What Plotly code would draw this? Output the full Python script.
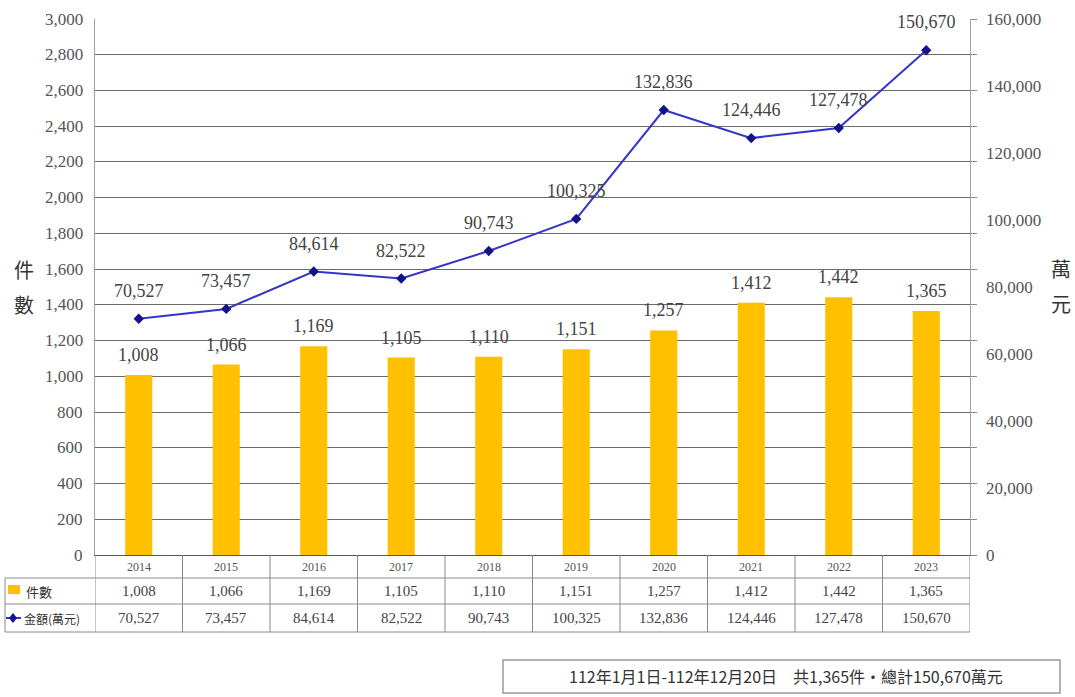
import plotly.graph_objects as go

years = ["2014", "2015", "2016", "2017", "2018", "2019", "2020", "2021", "2022", "2023"]
cases = [1008, 1066, 1169, 1105, 1110, 1151, 1257, 1412, 1442, 1365]
amounts = [70527, 73457, 84614, 82522, 90743, 100325, 132836, 124446, 127478, 150670]
left_ticks = [0, 200, 400, 600, 800, 1000, 1200, 1400, 1600, 1800, 2000, 2200, 2400, 2600, 2800, 3000]
right_ticks = [0, 20000, 40000, 60000, 80000, 100000, 120000, 140000, 160000]
case_label = "件數"
amount_label = "金額(萬元)"
left_title = ["件", "數"]
right_title = ["萬", "元"]
summary = "112年1月1日-112年12月20日　共1,365件‧總計150,670萬元"

W, H = 1075, 697
L, R, T, B = 95, 970, 19, 555
PW, PH = R - L, B - T


def px(x):
    return (x - L) / PW


def py(y):
    return (B - y) / PH


NUM = "Liberation Serif"
CJK = "Noto Sans CJK TC"
TXT = "#444444"
TICK = "#555555"

LMAX, RMAX = left_ticks[-1], right_ticks[-1]

fig = go.Figure()
fig.add_trace(go.Bar(x=years, y=cases, marker=dict(color="#FFC000", line=dict(width=0)),
                     name=case_label, yaxis="y", showlegend=False))
fig.add_trace(go.Scatter(x=years, y=amounts, mode="lines+markers", yaxis="y2",
                         line=dict(color="#3535C8", width=2),
                         marker=dict(symbol="diamond", size=8, color="#14148A"),
                         name=amount_label, showlegend=False))

ann = []
fmt = lambda v: f"{v:,}"
for i, c in enumerate(cases):
    ann.append(dict(x=i, y=c, xref="x", yref="y", text=fmt(c), showarrow=False,
                    yshift=20, font=dict(family=NUM, size=18, color=TXT)))
for i, a in enumerate(amounts):
    ann.append(dict(x=i, y=a, xref="x", yref="y2", text=fmt(a), showarrow=False,
                    yshift=28, font=dict(family=NUM, size=18, color=TXT)))

# axis tick labels
for v in left_ticks:
    ann.append(dict(x=px(85), y=v, xref="paper", yref="y", text=fmt(v), showarrow=False,
                    xanchor="right", yanchor="middle", font=dict(family=NUM, size=17, color=TICK)))
for v in right_ticks:
    ann.append(dict(x=px(984), y=v, xref="paper", yref="y2", text=fmt(v), showarrow=False,
                    xanchor="left", yanchor="middle", font=dict(family=NUM, size=17, color=TICK)))

# data table
row_year, row_case, row_amt = 567, 591, 618
for i, (yr, c, a) in enumerate(zip(years, cases, amounts)):
    ann.append(dict(x=i, y=py(row_year), xref="x", yref="paper", text=yr, showarrow=False,
                    font=dict(family=NUM, size=12, color="#555"), yanchor="middle"))
    ann.append(dict(x=i, y=py(row_case), xref="x", yref="paper", text=fmt(c), showarrow=False,
                    font=dict(family=NUM, size=15, color=TXT), yanchor="middle"))
    ann.append(dict(x=i, y=py(row_amt), xref="x", yref="paper", text=fmt(a), showarrow=False,
                    font=dict(family=NUM, size=15, color=TXT), yanchor="middle"))
ann.append(dict(x=px(24), y=py(row_case), xref="paper", yref="paper", text=case_label,
                showarrow=False, xanchor="left", yanchor="middle",
                font=dict(family=CJK, size=13, color="#333")))
ann.append(dict(x=px(22), y=py(row_amt), xref="paper", yref="paper", text=amount_label,
                showarrow=False, xanchor="left", yanchor="middle",
                font=dict(family=CJK, size=12, color="#333")))
# axis titles (one character per line)
for k, ch in enumerate(left_title):
    ann.append(dict(x=px(24), y=py(269 + 35 * k), xref="paper", yref="paper", text=ch,
                    showarrow=False, xanchor="center", yanchor="middle",
                    font=dict(family=CJK, size=20, color="#333")))
for k, ch in enumerate(right_title):
    ann.append(dict(x=px(1061), y=py(268 + 35 * k), xref="paper", yref="paper", text=ch,
                    showarrow=False, xanchor="center", yanchor="middle",
                    font=dict(family=CJK, size=20, color="#333")))
# summary box text
ann.append(dict(x=px(786), y=py(676), xref="paper", yref="paper", text=summary,
                showarrow=False, xanchor="center", yanchor="middle",
                font=dict(family=CJK, size=16, color="#333")))

shapes = []
lc = "#8a8a8a"
for yy in [578, 604, 632]:
    shapes.append(dict(type="line", xref="paper", yref="paper", x0=px(5), x1=1,
                       y0=py(yy), y1=py(yy), line=dict(color=lc, width=1)))
shapes.append(dict(type="line", xref="paper", yref="paper", x0=px(5), x1=px(5),
                   y0=py(578), y1=py(632), line=dict(color=lc, width=1)))
for i in range(len(years) + 1):
    xv = i - 0.5
    shapes.append(dict(type="line", xref="x", yref="paper", x0=xv, x1=xv,
                       y0=py(555), y1=py(632), line=dict(color=lc, width=1)))
# legend keys
shapes.append(dict(type="rect", xref="paper", yref="paper", x0=px(8), x1=px(20),
                   y0=py(594), y1=py(585), fillcolor="#FFC000", line=dict(width=0)))
shapes.append(dict(type="line", xref="paper", yref="paper", x0=px(6), x1=px(21),
                   y0=py(618), y1=py(618), line=dict(color="#3535C8", width=2)))
dx, dy = 4 / PW, 5 / PH
cx, cy = px(13), py(618)
shapes.append(dict(type="path", xref="paper", yref="paper",
                   path=f"M {cx-dx} {cy} L {cx} {cy+dy} L {cx+dx} {cy} L {cx} {cy-dy} Z",
                   fillcolor="#14148A", line=dict(width=0)))
# summary box
shapes.append(dict(type="rect", xref="paper", yref="paper", x0=px(503), x1=px(1060),
                   y0=py(693), y1=py(660), line=dict(color="#9a9a9a", width=1.5),
                   fillcolor="rgba(0,0,0,0)"))

fig.update_layout(
    width=W, height=H,
    font=dict(family=NUM, size=17, color=TICK),
    margin=dict(l=L, r=W - R, t=T, b=H - B, pad=0, autoexpand=False),
    paper_bgcolor="white", plot_bgcolor="white",
    bargap=0.69,
    xaxis=dict(type="category", showticklabels=False, ticks="", showgrid=False,
               showline=True, linecolor="#555", linewidth=1, mirror=False,
               automargin=False, range=[-0.5, len(years) - 0.5]),
    yaxis=dict(range=[0, LMAX], tickvals=left_ticks, showticklabels=False, showgrid=True,
               gridcolor="#6a6a6a", gridwidth=1, zeroline=False, automargin=False,
               showline=True, linecolor="#a0a0a0", linewidth=1, ticks=""),
    yaxis2=dict(range=[0, RMAX], tickvals=right_ticks, showticklabels=False, overlaying="y",
                side="right", showgrid=False, zeroline=False, showline=True, automargin=False,
                linecolor="#a0a0a0", linewidth=1, ticks="",
                minor=dict(ticks="outside", tick0=0, dtick=RMAX / (len(left_ticks) - 1),
                           ticklen=6, tickcolor="#8a8a8a", showgrid=False)),
    annotations=ann,
    shapes=shapes,
)

fig.write_html("out.html", config={"displayModeBar": False},
               post_script="document.body.style.margin='0px';document.body.style.overflow='hidden';")
